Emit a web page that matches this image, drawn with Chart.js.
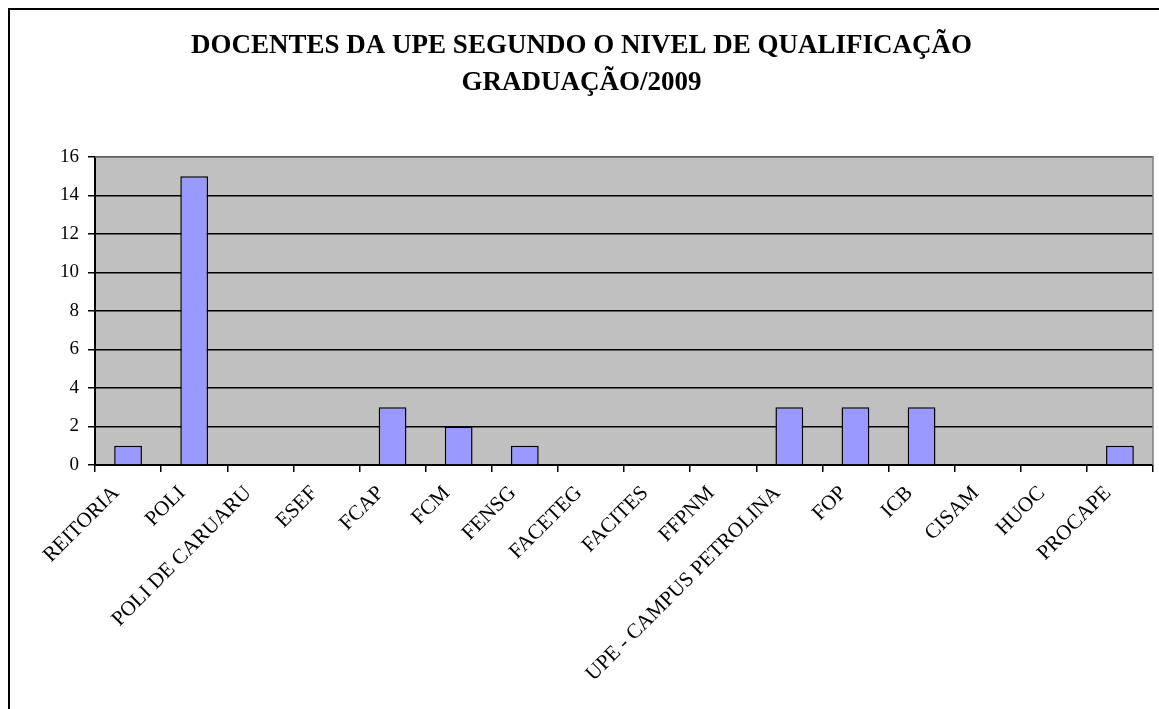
<!DOCTYPE html>
<html>
<head>
<meta charset="utf-8">
<script src="https://cdn.jsdelivr.net/npm/chart.js@4/dist/chart.umd.min.js"></script>
<style>
    html, body { margin: 0; padding: 0; background: #ffffff; }
    #wrap { width: 1159px; height: 709px; }
</style>
</head>
<body>
<div id="wrap"><canvas id="chart"></canvas></div>
<script>
const categories = [
    "REITORIA", "POLI", "POLI DE CARUARU", "ESEF", "FCAP", "FCM", "FENSG",
    "FACETEG", "FACITES", "FFPNM", "UPE - CAMPUS PETROLINA", "FOP", "ICB",
    "CISAM", "HUOC", "PROCAPE"
];
const docentes = [1, 15, 0, 0, 3, 2, 1, 0, 0, 0, 3, 3, 3, 0, 0, 1];
const titleLines = ["DOCENTES DA UPE SEGUNDO O NIVEL DE QUALIFICAÇÃO", "GRADUAÇÃO/2009"];
const yTicks = { min: 0, max: 16, step: 2 };

const serif = "'Liberation Serif', 'DejaVu Serif', serif";

// white page with the frame round it, grey plot area
const backdrop = {
    id: "backdrop",
    beforeDraw(chart) {
        const ctx = chart.ctx;
        const a = chart.chartArea;
        ctx.save();
        ctx.fillStyle = "#ffffff";
        ctx.fillRect(0, 0, chart.width, chart.height);
        ctx.lineWidth = 2;
        ctx.strokeStyle = "#000000";
        ctx.strokeRect(9, 9, chart.width + 50, chart.height + 50);
        ctx.fillStyle = "#c0c0c0";
        ctx.fillRect(a.left, a.top, a.right - a.left, a.bottom - a.top);
        ctx.restore();
    },
    afterDatasetsDraw(chart) {
        const ctx = chart.ctx;
        const a = chart.chartArea;
        ctx.save();
        ctx.strokeStyle = "#808080";
        ctx.lineWidth = 1.5;
        ctx.beginPath();
        ctx.moveTo(a.left, a.top);
        ctx.lineTo(a.right, a.top);
        ctx.lineTo(a.right, a.bottom);
        ctx.stroke();
        ctx.restore();
    }
};

const cfg = {
    type: "bar",
    data: {
        labels: categories,
        datasets: [
            {
                label: "Graduação",
                data: docentes,
                backgroundColor: "#9999ff",
                borderColor: "#000000",
                borderWidth: 1.5,
                barPercentage: 0.42,
                categoryPercentage: 1.0,
            },
        ],
    },
    options: {
        responsive: true,
        maintainAspectRatio: false,
        animation: false,
        layout: {
            padding: { left: 10, right: 6, top: 0, bottom: 0 },
        },
        plugins: {
            legend: { display: false },
            tooltip: { enabled: false },
            title: {
                display: true,
                text: titleLines,
                color: "#000000",
                font: { family: serif, size: 27, weight: "bold", lineHeight: 1.37 },
                padding: { top: 28, bottom: 55 },
            },
        },
        scales: {
            x: {
                offset: true,
                afterFit(scale) {
                    scale.height = 244;
                },
                grid: {
                    offset: true,
                    drawOnChartArea: false,
                    drawTicks: true,
                    tickLength: 7,
                    color: "#000000",
                    lineWidth: 1.5,
                },
                border: { display: true, color: "#000000", width: 2 },
                ticks: {
                    color: "#000000",
                    font: { family: serif, size: 21 },
                    maxRotation: 45,
                    minRotation: 45,
                    autoSkip: false,
                    padding: 9,
                    labelOffset: -12,
                },
            },
            y: {
                min: yTicks.min,
                max: yTicks.max,
                afterFit(scale) {
                    scale.width = 85;
                },
                grid: {
                    color: "#000000",
                    lineWidth: 1.5,
                    drawTicks: true,
                    tickLength: 7,
                },
                border: { display: true, color: "#000000", width: 2 },
                ticks: {
                    stepSize: yTicks.step,
                    color: "#000000",
                    font: { family: serif, size: 19 },
                    padding: 9,
                },
            },
        },
    },
    plugins: [backdrop],
};

const chart = new Chart(document.getElementById("chart"), cfg);
</script>
</body>
</html>
